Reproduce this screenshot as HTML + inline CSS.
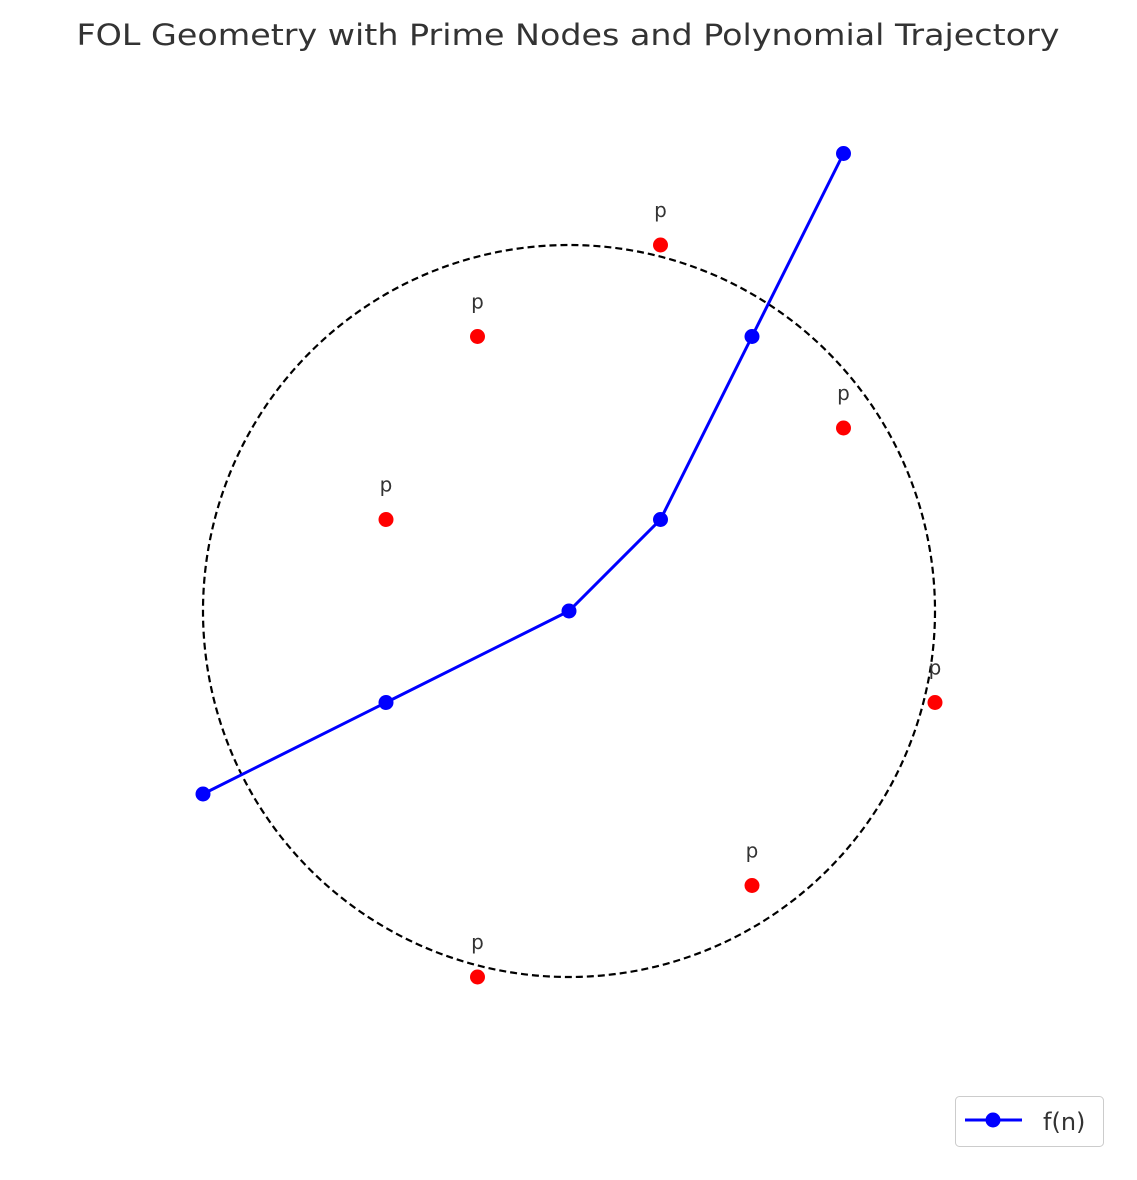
<!DOCTYPE html>
<html><head><meta charset="utf-8"><style>
html,body{margin:0;padding:0;background:#fff;}
svg{display:block;font-family:"DejaVu Sans","Liberation Sans",sans-serif;}
</style></head><body>
<svg id="chart" width="1137" height="1180" viewBox="0 0 1137 1180" xmlns="http://www.w3.org/2000/svg">
<rect width="1137" height="1180" fill="#fff"/>
<text x="568" y="45" text-anchor="middle" font-size="29" fill="#333" textLength="983" lengthAdjust="spacingAndGlyphs">FOL Geometry with Prime Nodes and Polynomial Trajectory</text>
<g id="plot"></g>
<g>
<rect x="955.5" y="1096.5" width="148" height="50" rx="4" fill="#fff" stroke="#ccc"/>
<line x1="965" y1="1120" x2="1022" y2="1120" stroke="#0000ff" stroke-width="3"/>
<circle cx="993" cy="1120" r="7.5" fill="#0000ff"/>
<text x="1043" y="1130" font-size="24" fill="#333">f(n)</text>
</g>
</svg>
<script>
const trajX = [-4, -2, 0, 1, 2, 3];
const trajY = [-2, -1, 0, 1, 3, 5];
const primeX = [1, -1, 3, -2, 4, 2, -1];
const primeY = [4, 3, 2, 1, -1, -3, -4];
const primeLabels = ["p","p","p","p","p","p","p"];
const circleRadius = 4;

const cx0 = 569, cy0 = 611, unit = 91.5;
const sx = v => cx0 + v * unit;
const sy = v => cy0 - v * unit;
const NS = "http://www.w3.org/2000/svg";
const g = document.getElementById("plot");
function mk(tag, attrs) {
  const e = document.createElementNS(NS, tag);
  for (const k in attrs) e.setAttribute(k, attrs[k]);
  g.appendChild(e);
  return e;
}
const circ = mk("circle", {cx: sx(0), cy: sy(0), r: circleRadius * unit, fill: "none", stroke: "#000", "stroke-width": 2.2, "stroke-dasharray": "7,4"});



const pts = trajX.map((x, i) => sx(x) + "," + sy(trajY[i])).join(" ");
const line = mk("polyline", {points: pts, fill: "none", stroke: "#0000ff", "stroke-width": 3});


trajX.forEach((x, i) => {
  const c = mk("circle", {cx: sx(x), cy: sy(trajY[i]), r: 7.5, fill: "#0000ff"});
  
  
});
primeX.forEach((x, i) => {
  const c = mk("circle", {cx: sx(x), cy: sy(primeY[i]), r: 7.5, fill: "#ff0000"});
  
  
  const t = mk("text", {x: sx(x), y: sy(primeY[i]) - 28, "text-anchor": "middle", "font-size": 20, fill: "#333"});
  t.textContent = primeLabels[i];
  
  
});
</script>
</body></html>
